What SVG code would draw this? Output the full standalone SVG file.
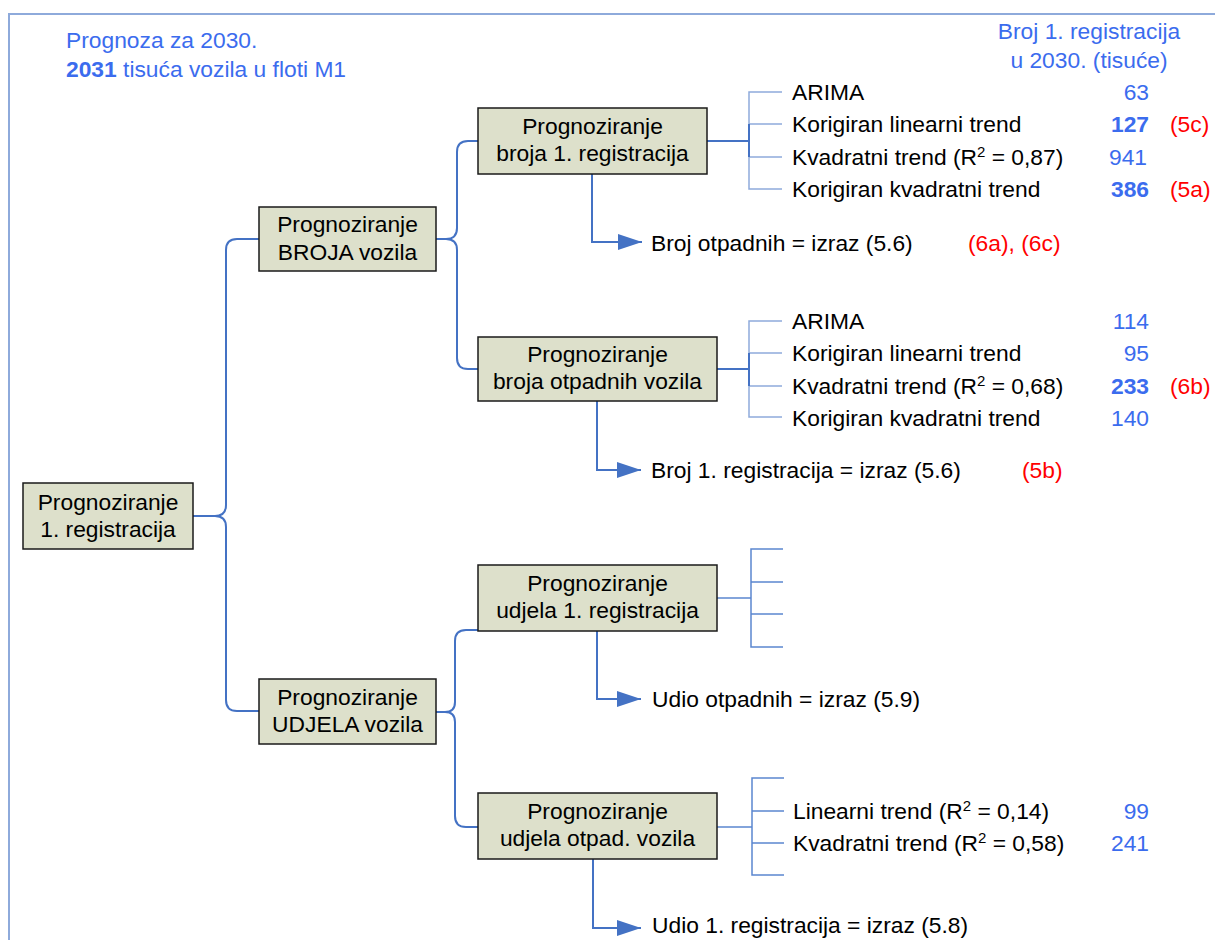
<svg xmlns="http://www.w3.org/2000/svg" width="1215" height="940" viewBox="0 0 1215 940">
<style>
text{font-family:"Liberation Sans",Arial,sans-serif;font-size:22.8px;fill:#000}
.box{fill:#dde0cb;stroke:#1a1a1a;stroke-width:1.5}
.c{fill:none;stroke:#4472c4;stroke-width:2}
.lt{fill:none;stroke:#8eaadb;stroke-width:1.5}
.md{fill:none;stroke:#5b86d0;stroke-width:1.5}
.blue{fill:#3b6cee}
.red{fill:#ff0000}
.b{font-weight:bold}
.mid{text-anchor:middle}
.end{text-anchor:end}
.sup{font-size:15px}
</style>
<defs>
<marker id="arr" markerUnits="userSpaceOnUse" markerWidth="24" markerHeight="16" viewBox="0 0 24 16" refX="24" refY="8" orient="auto">
<path d="M0,0 L24,8 L0,16 z" fill="#4472c4"/>
</marker>
</defs>
<rect width="1215" height="940" fill="#fff"/>
<path d="M9,945 V14 H1220" fill="none" stroke="#8eaadb" stroke-width="2"/>

<g id="title">
<text x="66" y="48" class="blue">Prognoza za 2030.</text>
<text x="66" y="77" class="blue"><tspan class="b">2031</tspan> tisuća vozila u floti M1</text>
</g>
<g id="header">
<text x="1089" y="39" class="blue mid">Broj 1. registracija</text>
<text x="1089" y="68" class="blue mid">u 2030. (tisuće)</text>
</g>

<g id="connectors">
<path class="c" d="M193,516 H215 Q226,516 226,505 V250 Q226,239 237,239 H259"/>
<path class="c" d="M215,516 Q226,516 226,527 V700 Q226,711 237,711 H259"/>
<path class="c" d="M436,239 H446 Q457,239 457,228 V152 Q457,141 468,141 H478"/>
<path class="c" d="M446,239 Q457,239 457,250 V358 Q457,369 468,369 H478"/>
<path class="c" d="M436,712 H445 Q455,712 455,702 V641 Q455,630 466,630 H478"/>
<path class="c" d="M445,712 Q455,712 455,722 V816 Q455,827 466,827 H478"/>
<path class="c" d="M592,174 V242 H642" marker-end="url(#arr)"/>
<path class="c" d="M597,401 V470 H641" marker-end="url(#arr)"/>
<path class="c" d="M597,631 V699 H641" marker-end="url(#arr)"/>
<path class="c" d="M593,859 V928 H641" marker-end="url(#arr)"/>
<path class="lt" d="M782,92 H749 V189 H782 M749,124 H782 M749,157 H782"/>
<path class="c" d="M707,141 H749 M749,124 V157"/>
<path class="lt" d="M782,321 H749 V417 H782 M749,353 H782 M749,386 H782"/>
<path class="c" d="M717,369 H749 M749,353 V386"/>
<path class="md" d="M783,549 H751 V647 H783 M751,582 H783 M751,614 H783 M717,598 H751"/>
<path class="md" d="M784,778 H752 V875 H784 M752,811 H784 M752,843 H784 M717,827 H752"/>
</g>

<g id="root">
<rect class="box" x="23" y="483" width="170" height="66"/>
<text x="108" y="510" class="mid">Prognoziranje</text>
<text x="108" y="537" class="mid">1. registracija</text>
</g>
<g id="broja">
<rect class="box" x="259" y="207" width="177" height="64"/>
<text x="347.5" y="232" class="mid">Prognoziranje</text>
<text x="347.5" y="260" class="mid">BROJA vozila</text>
</g>
<g id="udjela">
<rect class="box" x="259" y="679" width="177" height="65"/>
<text x="347.5" y="705" class="mid">Prognoziranje</text>
<text x="347.5" y="732" class="mid">UDJELA vozila</text>
</g>
<g id="box1">
<rect class="box" x="478" y="108" width="229" height="66"/>
<text x="592.5" y="134" class="mid">Prognoziranje</text>
<text x="592.5" y="161" class="mid">broja 1. registracija</text>
</g>
<g id="box2">
<rect class="box" x="478" y="337" width="239" height="64"/>
<text x="597.5" y="362" class="mid">Prognoziranje</text>
<text x="597.5" y="389" class="mid">broja otpadnih vozila</text>
</g>
<g id="box3">
<rect class="box" x="478" y="565" width="239" height="66"/>
<text x="597.5" y="591" class="mid">Prognoziranje</text>
<text x="597.5" y="618" class="mid">udjela 1. registracija</text>
</g>
<g id="box4">
<rect class="box" x="478" y="793" width="239" height="66"/>
<text x="597.5" y="819" class="mid">Prognoziranje</text>
<text x="597.5" y="846" class="mid">udjela otpad. vozila</text>
</g>

<g id="leaves1">
<text x="792" y="100">ARIMA</text>
<text x="792" y="132">Korigiran linearni trend</text>
<text x="792" y="165">Kvadratni trend (R<tspan class="sup" dy="-8">2</tspan><tspan dy="8"> = 0,87)</tspan></text>
<text x="792" y="197">Korigiran kvadratni trend</text>
<text x="1149" y="100" class="blue end">63</text>
<text x="1149" y="132" class="blue end b">127</text>
<text x="1147" y="165" class="blue end">941</text>
<text x="1149" y="197" class="blue end b">386</text>
<text x="1170" y="132" class="red">(5c)</text>
<text x="1170" y="197" class="red">(5a)</text>
</g>
<g id="result1">
<text x="651" y="251">Broj otpadnih = izraz (5.6)</text>
<text x="968" y="251" class="red">(6a), (6c)</text>
</g>
<g id="leaves2">
<text x="792" y="329">ARIMA</text>
<text x="792" y="361">Korigiran linearni trend</text>
<text x="792" y="394">Kvadratni trend (R<tspan class="sup" dy="-8">2</tspan><tspan dy="8"> = 0,68)</tspan></text>
<text x="792" y="426">Korigiran kvadratni trend</text>
<text x="1149" y="329" class="blue end">114</text>
<text x="1149" y="361" class="blue end">95</text>
<text x="1149" y="394" class="blue end b">233</text>
<text x="1149" y="426" class="blue end">140</text>
<text x="1170" y="394" class="red">(6b)</text>
</g>
<g id="result2">
<text x="651" y="478">Broj 1. registracija = izraz (5.6)</text>
<text x="1022" y="478" class="red">(5b)</text>
</g>
<g id="result3">
<text x="652" y="707">Udio otpadnih = izraz (5.9)</text>
</g>
<g id="leaves4">
<text x="793" y="819">Linearni trend (R<tspan class="sup" dy="-8">2</tspan><tspan dy="8"> = 0,14)</tspan></text>
<text x="793" y="851">Kvadratni trend (R<tspan class="sup" dy="-8">2</tspan><tspan dy="8"> = 0,58)</tspan></text>
<text x="1149" y="819" class="blue end">99</text>
<text x="1149" y="851" class="blue end">241</text>
</g>
<g id="result4">
<text x="652" y="933">Udio 1. registracija = izraz (5.8)</text>
</g>
</svg>
